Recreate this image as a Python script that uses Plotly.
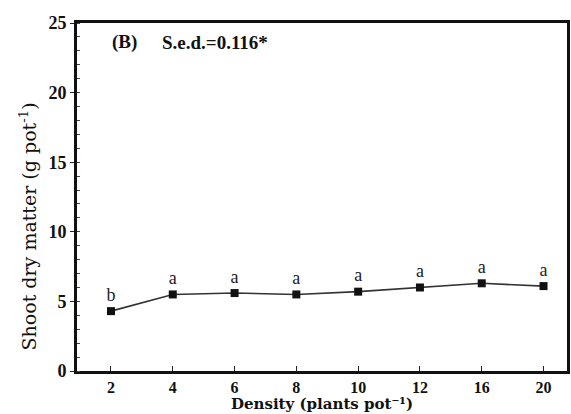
import plotly.graph_objects as go

# Shoot dry matter by planting density
density = ["2", "4", "6", "8", "10", "12", "16", "20"]
shoot_dm = [4.3, 5.5, 5.6, 5.5, 5.7, 6.0, 6.3, 6.1]
groups = ["b", "a", "a", "a", "a", "a", "a", "a"]
y_ticks = [0, 5, 10, 15, 20, 25]

serif = "Liberation Serif"
wide_serif = "DejaVu Serif"

fig = go.Figure()
fig.add_trace(go.Scatter(
    x=list(range(len(density))),
    y=shoot_dm,
    mode="lines+markers+text",
    text=groups,
    textposition="top center",
    textfont=dict(family=serif, size=18, color="#222"),
    line=dict(color="#333", width=1.6),
    marker=dict(symbol="square", size=8, color="#111"),
    cliponaxis=False,
    showlegend=False,
))

# Panel label and standard error of difference
fig.add_annotation(
    x=0.067, y=0.945, xref="paper", yref="paper",
    text="<b>(B)</b>", showarrow=False, xanchor="left", yanchor="middle",
    font=dict(family=serif, size=19, color="#111"),
)
fig.add_annotation(
    x=0.169, y=0.945, xref="paper", yref="paper",
    text="<b>S.e.d.=0.116*</b>", showarrow=False, xanchor="left", yanchor="middle",
    font=dict(family=serif, size=19, color="#111"),
)

# Axis titles
fig.add_annotation(
    x=0.5, y=0, xref="paper", yref="paper", yshift=-43,
    text="<b>Density (plants pot⁻¹)</b>", showarrow=False,
    xanchor="center", yanchor="bottom", borderpad=0,
    font=dict(family=wide_serif, size=15, color="#111"),
)
fig.add_annotation(
    x=-0.101, y=0.414, xref="paper", yref="paper", textangle=-90,
    text="Shoot dry matter (g pot<sup>-1</sup>)", showarrow=False,
    xanchor="center", yanchor="middle",
    font=dict(family=wide_serif, size=19, color="#111"),
)

fig.update_layout(
    width=571, height=414,
    margin=dict(l=77, r=1, t=23, b=43),
    paper_bgcolor="white", plot_bgcolor="white",
    font=dict(family=serif, color="#111"),
)

fig.update_xaxes(
    tickmode="array",
    tickvals=list(range(len(density))),
    ticktext=[f"<b>{d}</b>" for d in density],
    range=[-0.55, 7.38],
    showline=True, linecolor="#111", linewidth=3, mirror=True,
    ticks="inside", ticklen=5, tickwidth=1, tickcolor="#222",
    tickfont=dict(family=serif, size=16),
    ticklabelstandoff=0,
    showgrid=False, zeroline=False,
)

fig.update_yaxes(
    tickmode="array",
    tickvals=y_ticks,
    ticktext=[f"<b>{v}</b>" for v in y_ticks],
    range=[0, 25],
    showline=True, linecolor="#111", linewidth=3, mirror=True,
    ticks="outside", ticklen=4, tickwidth=1, tickcolor="#222",
    tickfont=dict(family=serif, size=18),
    minor=dict(dtick=1, ticks="inside", ticklen=3, tickwidth=1, tickcolor="#444"),
    showgrid=False, zeroline=False,
)

fig.write_html("out.html")
